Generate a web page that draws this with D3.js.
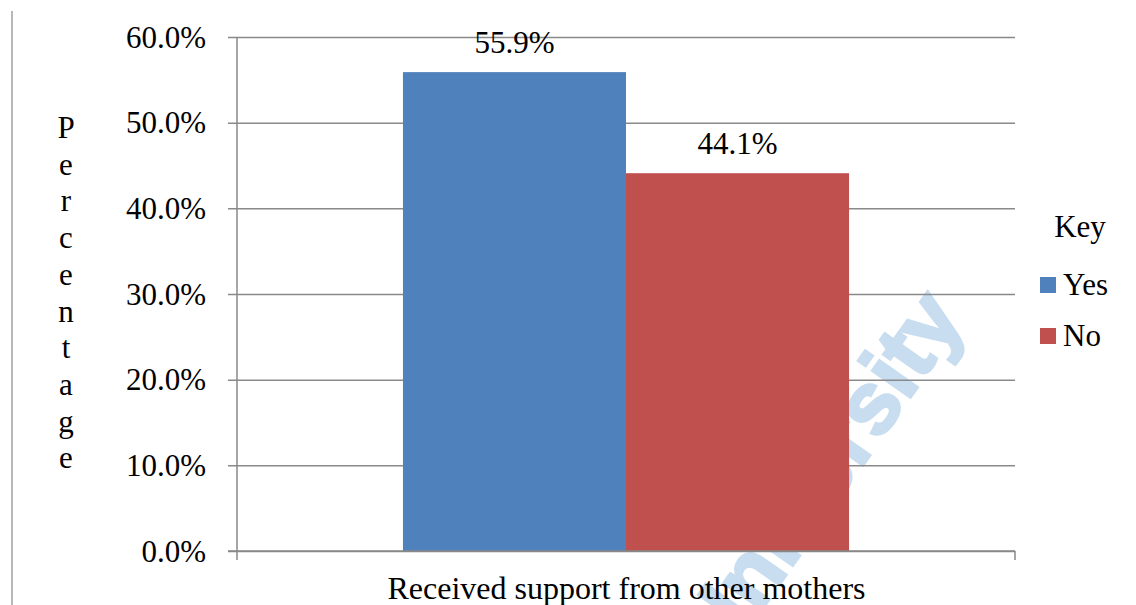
<!DOCTYPE html>
<html>
<head>
<meta charset="utf-8">
<script src="https://cdn.jsdelivr.net/npm/d3@7"></script>
<style>
  html, body { margin: 0; padding: 0; background: #ffffff; }
  svg { display: block; }
  text { font-family: "Liberation Serif", "Times New Roman", serif; fill: #000; }
</style>
</head>
<body>
<svg id="chart" width="1136" height="605"></svg>
<script>
// Chart data
const category = "Received support from other mothers";
const seriesNames = ["Yes", "No"];
const seriesValues = [55.9, 44.1];
const seriesColors = ["#4F81BD", "#C0504D"];
const yTicks = [0, 10, 20, 30, 40, 50, 60];
const yAxisTitle = "Percentage";
const legendTitle = "Key";

const svg = d3.select("#chart");
const W = 1136, H = 605;
const plot = { left: 237, right: 1015, top: 37, bottom: 551 };
const gridColor = "#898989";

// Faint watermark beneath everything
svg.append("text")
  .attr("transform", "translate(966,318) rotate(-55)")
  .attr("text-anchor", "end")
  .style("font-family", "'Liberation Sans', Arial, sans-serif")
  .style("font-weight", "bold")
  .style("font-size", "88px")
  .style("fill", "#c8ddf0")
  .style("stroke", "#c8ddf0")
  .style("stroke-width", 3)
  .text("University");

// Left border line of the figure frame
svg.append("line")
  .attr("x1", 12).attr("x2", 12).attr("y1", 11).attr("y2", H)
  .attr("stroke", "#a0a0a0").attr("stroke-width", 1.5);

const y = d3.scaleLinear().domain([0, 60]).range([plot.bottom, plot.top]);

const x0 = d3.scaleBand()
  .domain([category])
  .range([plot.left, plot.right])
  .paddingInner(0)
  .paddingOuter(0.372);

const x1 = d3.scaleBand()
  .domain(seriesNames)
  .range([0, x0.bandwidth()])
  .padding(0);

// Y axis with gridlines
const yAxis = d3.axisLeft(y)
  .tickValues(yTicks)
  .tickSizeInner(-(plot.right - plot.left))
  .tickSizeOuter(0)
  .tickPadding(22)
  .tickFormat(d => d3.format(".1f")(d) + "%");

const gy = svg.append("g")
  .attr("transform", `translate(${plot.left},0)`)
  .call(yAxis);
gy.select(".domain").remove();
gy.selectAll(".tick line")
  .attr("x1", -9)
  .attr("stroke", gridColor)
  .attr("stroke-width", 1.5);
gy.selectAll(".tick text")
  .attr("x", -31)
  .attr("dy", "0.33em")
  .style("font-family", "'Liberation Serif', 'Times New Roman', serif")
  .style("font-size", "31px")
  .attr("fill", "#000");

// Y axis line and category boundary ticks
svg.append("line")
  .attr("x1", plot.left).attr("x2", plot.left)
  .attr("y1", plot.top).attr("y2", plot.bottom + 9)
  .attr("stroke", gridColor).attr("stroke-width", 1.5);
svg.append("line")
  .attr("x1", plot.right).attr("x2", plot.right)
  .attr("y1", plot.bottom).attr("y2", plot.bottom + 9)
  .attr("stroke", gridColor).attr("stroke-width", 1.5);

// Bars
const groups = svg.append("g")
  .selectAll("g")
  .data([category])
  .join("g")
  .attr("transform", d => `translate(${x0(d)},0)`);

const rows = seriesNames.map((s, i) => ({ name: s, value: seriesValues[i], color: seriesColors[i] }));

groups.selectAll("rect")
  .data(rows)
  .join("rect")
  .attr("x", d => x1(d.name))
  .attr("y", d => y(d.value))
  .attr("width", x1.bandwidth())
  .attr("height", d => y(0) - y(d.value))
  .attr("fill", d => d.color);

// Value labels
groups.selectAll("text.value")
  .data(rows)
  .join("text")
  .attr("class", "value")
  .attr("x", d => x1(d.name) + x1.bandwidth() / 2)
  .attr("y", d => y(d.value) - 19)
  .attr("text-anchor", "middle")
  .style("font-size", "31px")
  .text(d => d3.format(".1f")(d.value) + "%");

// Redraw the baseline on top of bars
svg.append("line")
  .attr("x1", plot.left - 9).attr("x2", plot.right)
  .attr("y1", y(0)).attr("y2", y(0))
  .attr("stroke", gridColor).attr("stroke-width", 1.5);

// X axis category label
svg.append("text")
  .attr("x", (plot.left + plot.right) / 2 + 0.5)
  .attr("y", 599)
  .attr("text-anchor", "middle")
  .style("font-size", "32px")
  .text(category);

// Y axis title, one letter per line
svg.append("g")
  .selectAll("text")
  .data(yAxisTitle.split(""))
  .join("text")
  .attr("x", 66)
  .attr("y", (d, i) => 138 + i * 36.7)
  .attr("text-anchor", "middle")
  .style("font-size", "31px")
  .text(d => d);

// Legend
svg.append("text")
  .attr("x", 1080)
  .attr("y", 237)
  .attr("text-anchor", "middle")
  .style("font-size", "31px")
  .text(legendTitle);

const legend = svg.append("g")
  .selectAll("g")
  .data(rows)
  .join("g")
  .attr("transform", (d, i) => `translate(1040,${277 + i * 51})`);
legend.append("rect")
  .attr("width", 16).attr("height", 16)
  .attr("fill", d => d.color);
legend.append("text")
  .attr("x", 23)
  .attr("y", 18)
  .style("font-size", "31px")
  .text(d => d.name);
</script>
</body>
</html>
